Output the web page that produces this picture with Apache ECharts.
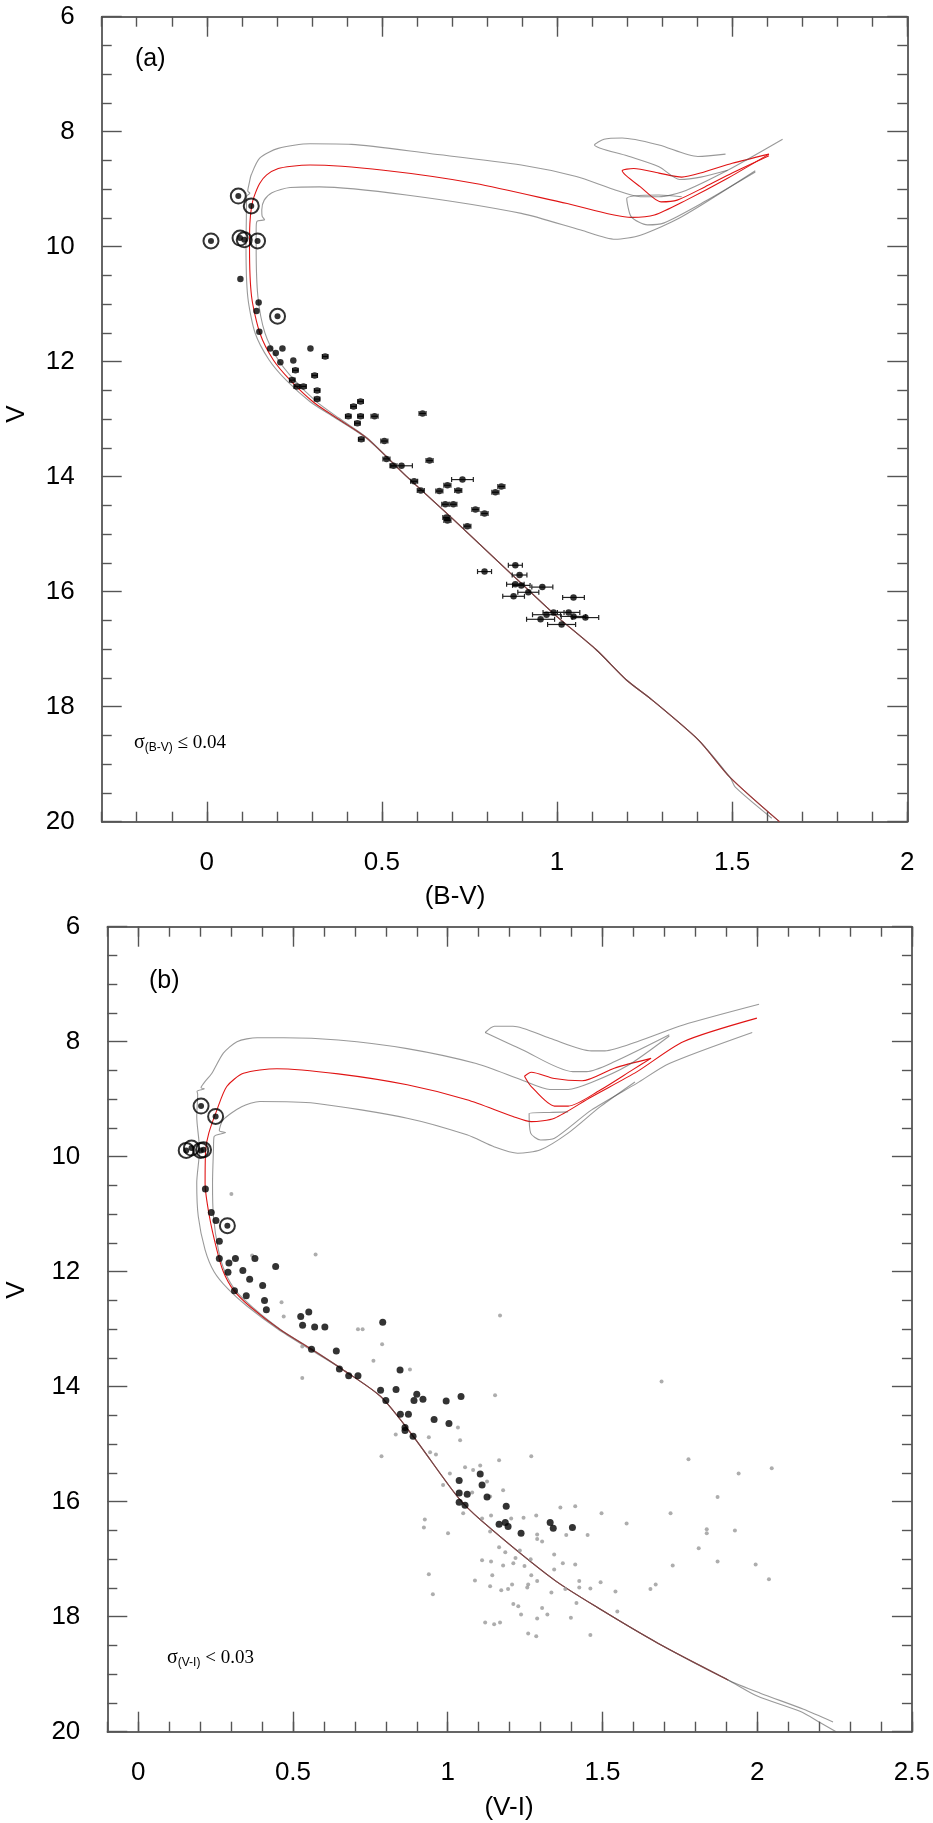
<!DOCTYPE html>
<html>
<head>
<meta charset="utf-8">
<script src="https://cdn.jsdelivr.net/npm/echarts@6/dist/echarts.min.js"></script>
<style>
  html, body { margin: 0; padding: 0; background: #fff; }
  #chart { width: 933px; height: 1823px; }
</style>
</head>
<body>
<div id="chart"></div>
<script>
// ---- panel (a): V vs (B-V) ----
// [B-V, V, error in B-V]
var starsA = [
  [0.096,10.56,0],[0.148,10.97,0],[0.142,11.12,0],[0.150,11.48,0],[0.181,11.77,0],
  [0.216,11.77,0],[0.197,11.85,0],[0.296,11.77,0],[0.338,11.91,0.008],[0.210,12.01,0],
  [0.247,11.98,0],[0.253,12.15,0.008],[0.308,12.24,0.008],[0.244,12.32,0.008],[0.257,12.43,0.008],
  [0.276,12.43,0.008],[0.315,12.50,0.008],[0.315,12.65,0.008],[0.439,12.69,0.008],[0.419,12.78,0.008],
  [0.404,12.95,0.008],[0.439,12.95,0.008],[0.479,12.95,0.01],[0.430,13.07,0.008],[0.616,12.90,0.01],
  [0.441,13.35,0.008],[0.507,13.38,0.01],[0.513,13.69,0.01],[0.533,13.81,0.01],[0.556,13.81,0.031],
  [0.636,13.72,0.01],[0.592,14.08,0.01],[0.611,14.24,0.01],[0.730,14.05,0.031],[0.687,14.15,0.01],
  [0.664,14.25,0.01],[0.718,14.24,0.01],[0.841,14.17,0.01],[0.824,14.27,0.01],[0.681,14.48,0.01],
  [0.704,14.48,0.01],[0.767,14.57,0.01],[0.793,14.64,0.01],[0.684,14.71,0.01],[0.687,14.76,0.01],
  [0.744,14.86,0.01],[0.793,15.65,0.02],[0.881,15.54,0.02],[0.893,15.71,0.021],[0.881,15.87,0.025],
  [0.898,15.89,0.025],[0.958,15.92,0.03],[0.918,16.01,0.03],[0.876,16.08,0.031],[1.047,16.10,0.031],
  [0.990,16.36,0.03],[1.033,16.36,0.032],[0.970,16.40,0.04],[1.047,16.43,0.035],[1.081,16.45,0.038],
  [0.953,16.48,0.04],[1.013,16.57,0.04]
];
var circledA = [[0.090,9.12],[0.127,9.29],[0.012,9.90],[0.095,9.85],[0.107,9.88],[0.145,9.90],[0.202,11.21]];

var isoA_red = [[1.635,20.0],[1.494,19.23],[1.404,18.58],[1.271,17.88],[1.199,17.54],[1.112,17.01],[0.99,16.38],
  [0.85,15.58],[0.70,14.72],[0.571,14.0],[0.457,13.33],[0.371,12.98],[0.304,12.70],[0.238,12.32],[0.19,11.97],
  [0.152,11.51],[0.128,10.87],[0.122,10.0],[0.123,9.6],[0.128,9.30],[0.135,9.13],[0.151,8.90],[0.171,8.75],
  [0.204,8.64],[0.243,8.60],[0.295,8.58],[0.505,8.67],[0.767,8.90],[1.029,9.25],[1.212,9.49],[1.278,9.45],
  [1.369,9.19],[1.487,8.81],[1.605,8.39]];
var isoA_redLoop = [[1.605,8.39],[1.50,8.55],[1.42,8.70],[1.356,8.79],[1.291,8.72],[1.219,8.64],[1.186,8.68],
  [1.238,8.96],[1.297,9.22],[1.343,9.19],[1.422,8.96],[1.50,8.72],[1.605,8.42]];
var isoA_up = [[1.635,20.0],[1.494,19.23],[1.404,18.58],[1.271,17.88],[1.199,17.54],[1.112,17.01],[0.99,16.38],
  [0.85,15.58],[0.70,14.72],[0.571,14.0],[0.455,13.33],[0.365,12.97],[0.296,12.70],[0.228,12.33],[0.178,11.97],
  [0.138,11.5],[0.117,10.87],[0.112,10.0],[0.113,9.5],[0.114,9.12],[0.123,9.07],[0.117,9.03],[0.121,8.9],
  [0.127,8.75],[0.151,8.46],[0.204,8.29],[0.295,8.21],[0.413,8.22],[0.636,8.38],[0.898,8.58],[1.055,8.78],
  [1.160,9.00],[1.238,9.13],[1.291,9.13],[1.356,9.05],[1.487,8.67],[1.644,8.13]];
var isoA_upLoop = [[1.481,8.39],[1.402,8.43],[1.291,8.23],[1.186,8.11],[1.134,8.13],[1.107,8.23],[1.20,8.42],
  [1.291,8.61],[1.350,8.83],[1.41,8.79],[1.487,8.67]];
var isoA_low = [[1.613,19.94],[1.509,19.40],[1.494,19.23],[1.404,18.58],[1.271,17.88],[1.199,17.54],[1.112,17.01],
  [0.99,16.38],[0.85,15.58],[0.70,14.72],[0.571,14.0],[0.459,13.33],[0.377,12.98],[0.312,12.69],[0.247,12.30],
  [0.202,11.95],[0.166,11.5],[0.146,10.87],[0.141,10.0],[0.141,9.7],[0.143,9.56],[0.165,9.53],[0.158,9.47],
  [0.157,9.36],[0.164,9.19],[0.186,9.06],[0.238,8.97],[0.322,8.96],[0.570,9.10],[0.898,9.42],[1.068,9.71],
  [1.166,9.87],[1.238,9.80],[1.356,9.48],[1.566,8.68]];
var isoA_lowLoop = [[1.356,9.13],[1.291,9.10],[1.199,9.16],[1.212,9.48],[1.258,9.62],[1.304,9.59],[1.42,9.22],[1.566,8.70]];

// ---- panel (b): V vs (V-I) ----
var starsB = [
  [0.217,10.56],[0.236,10.97],[0.251,11.11],[0.262,11.47],[0.262,11.77],[0.293,11.85],[0.314,11.77],
  [0.377,11.77],[0.444,11.91],[0.290,12.01],[0.338,11.98],[0.360,12.13],[0.402,12.24],[0.311,12.33],
  [0.349,12.42],[0.408,12.50],[0.414,12.66],[0.525,12.78],[0.551,12.70],[0.531,12.93],[0.570,12.96],
  [0.603,12.96],[0.790,12.88],[0.56,13.35],[0.64,13.38],[0.65,13.69],[0.68,13.81],[0.71,13.81],
  [0.846,13.71],[0.783,14.06],[0.800,14.24],[0.833,14.05],[0.847,14.48],[0.873,14.48],[0.862,14.71],
  [0.862,14.76],[0.888,14.86],[0.891,14.24],[0.900,14.13],[0.920,14.22],[0.956,14.57],[0.995,14.25],
  [1.004,14.64],[1.043,14.17],[1.037,15.63],[1.105,15.52],[1.111,15.71],[1.037,15.85],[1.063,15.87],
  [1.127,15.92],[1.037,16.01],[1.056,16.06],[1.189,16.08],[1.166,16.39],[1.186,16.36],[1.195,16.43],
  [1.237,16.55],[1.331,16.36],[1.341,16.46],[1.403,16.45]
];
var circledB = [[0.203,9.12],[0.250,9.30],[0.155,9.89],[0.172,9.85],[0.202,9.89],[0.211,9.88],[0.288,11.20]];
var fieldB = [
  [0.301,10.65],[0.573,11.70],[0.368,11.72],[0.463,12.53],[0.470,12.78],[0.71,13.0],[0.725,13.0],
  [0.53,13.30],[0.53,13.85],[0.76,13.55],
  [1.169,12.76],[0.788,13.26],[0.878,13.70],[1.153,14.15],[1.691,13.91],[1.033,14.71],[1.040,14.93],
  [0.939,14.88],[0.832,14.83],[0.943,15.14],[0.962,15.18],[0.786,15.21],[1.166,15.28],[1.270,15.21],
  [1.778,15.26],[1.940,15.51],[2.047,15.42],[1.007,15.51],[1.056,15.40],[1.082,15.45],[1.105,15.37],
  [0.985,15.71],[1.127,15.65],[1.079,15.84],[1.179,15.80],[1.137,15.91],[1.872,15.92],[1.364,16.10],
  [1.412,16.08],[1.497,16.20],[1.720,16.20],[1.578,16.38],[0.926,16.31],[0.923,16.45],[1.001,16.55],
  [1.050,16.20],[1.111,16.29],[1.140,16.24],[1.205,16.29],[1.245,16.28],[1.286,16.24],[1.137,16.52],
  [1.289,16.57],[1.289,16.65],[1.305,16.69],[1.383,16.58],[1.452,16.58],[1.837,16.48],[1.837,16.55],
  [1.928,16.50],[1.166,16.79],[1.186,16.88],[1.219,16.98],[1.233,16.85],[1.344,16.92],[1.811,16.81],
  [1.111,17.02],[1.140,17.04],[1.179,17.11],[1.212,17.07],[1.248,17.12],[1.268,17.00],[1.344,17.18],
  [1.372,17.07],[1.412,17.09],[1.727,17.11],[1.872,17.04],[1.995,17.09],[0.939,17.26],[1.144,17.28],
  [1.270,17.28],[1.088,17.37],[1.289,17.38],[1.425,17.38],[1.494,17.40],[2.038,17.35],[1.137,17.47],
  [1.208,17.44],[1.260,17.44],[1.257,17.49],[1.173,17.54],[1.195,17.52],[1.335,17.58],[1.380,17.52],
  [1.425,17.49],[1.461,17.51],[1.542,17.56],[1.655,17.52],[1.672,17.44],[0.952,17.61],[1.416,17.76],
  [1.212,17.78],[1.228,17.82],[1.305,17.85],[1.548,17.91],[1.237,17.96],[1.322,17.96],[1.289,18.03],
  [1.398,18.02],[1.121,18.10],[1.150,18.13],[1.169,18.10],[1.260,18.29],[1.286,18.34],[1.461,18.32]
];

var isoB_red = [[1.906,19.10],[1.679,18.46],[1.496,17.88],[1.344,17.36],[1.107,16.32],[1.031,15.91],[0.888,14.86],
  [0.783,14.17],[0.66,13.7],[0.56,13.35],[0.459,13.01],[0.362,12.61],[0.308,12.32],[0.275,12.0],[0.254,11.62],
  [0.23,11.04],[0.216,10.46],[0.218,9.88],[0.228,9.59],[0.254,9.19],[0.286,8.78],[0.340,8.55],[0.448,8.47],
  [0.646,8.56],[0.869,8.75],[1.062,9.01],[1.211,9.30],[1.270,9.39],[1.345,9.33],[1.464,8.96],[1.612,8.52],
  [1.761,8.00],[1.999,7.59]];
var isoB_redLoop = [[1.248,8.60],[1.270,8.53],[1.345,8.64],[1.434,8.68],[1.538,8.46],[1.657,8.29],[1.597,8.49],
  [1.493,8.84],[1.389,9.12],[1.345,9.12],[1.270,8.78],[1.248,8.60]];
var isoB_up = [[2.245,19.83],[2.15,19.61],[2.01,19.33],[1.906,19.10],[1.679,18.46],[1.496,17.88],[1.344,17.36],
  [1.107,16.32],[1.031,15.91],[0.888,14.86],[0.783,14.17],[0.66,13.7],[0.555,13.35],[0.452,13.0],[0.352,12.6],
  [0.29,12.3],[0.245,12.0],[0.216,11.62],[0.194,11.04],[0.189,10.46],[0.198,9.88],[0.189,9.30],[0.192,8.92],
  [0.190,8.86],[0.214,8.82],[0.203,8.80],[0.215,8.70],[0.238,8.55],[0.275,8.20],[0.319,8.00],[0.384,7.93],
  [0.470,7.93],[0.646,7.97],[0.869,8.12],[1.092,8.38],[1.241,8.67],[1.330,8.83],[1.389,8.83],[1.464,8.71],
  [1.583,8.41],[1.716,7.90]];
var isoB_upLoopA = [[1.121,7.84],[1.151,7.73],[1.211,7.73],[1.330,7.94],[1.464,8.16],[1.508,8.16],[1.612,8.00],
  [1.761,7.71],[2.006,7.35]];
var isoB_upLoopB = [[1.121,7.84],[1.241,8.14],[1.404,8.52],[1.449,8.52],[1.538,8.35],[1.716,7.88]];
var isoB_low = [[2.255,20.0],[2.2,19.83],[2.14,19.65],[2.0,19.38],[1.906,19.10],[1.679,18.46],[1.496,17.88],
  [1.344,17.36],[1.107,16.32],[1.031,15.91],[0.888,14.86],[0.783,14.17],[0.66,13.7],[0.562,13.35],[0.464,13.02],
  [0.37,12.62],[0.315,12.33],[0.28,12.0],[0.259,11.62],[0.243,11.04],[0.240,10.46],[0.243,9.88],[0.245,9.65],
  [0.282,9.58],[0.262,9.55],[0.274,9.36],[0.334,9.13],[0.393,9.04],[0.571,9.07],[0.869,9.33],[1.062,9.62],
  [1.151,9.83],[1.226,9.94],[1.300,9.88],[1.389,9.59],[1.493,9.13],[1.605,8.70]];
var isoB_lowLoop = [[1.389,9.22],[1.330,9.23],[1.263,9.25],[1.268,9.59],[1.300,9.71],[1.345,9.68],[1.464,9.19],
  [1.612,8.72],[1.716,8.38],[1.984,7.84]];

// tick values
var majorA = [0, 0.5, 1, 1.5, 2];
var majorB = [0, 0.5, 1, 1.5, 2, 2.5];

function steps(a, b, s) {
  var out = [];
  for (var v = a; v <= b + 1e-9; v += s) out.push(Math.round(v * 10) / 10);
  return out;
}

var AX = '#555';
var FONT = '"Liberation Sans", Arial, sans-serif';

function xAxes(grid, min, max, majors) {
  var minors = steps(min, max, 0.1);
  var base = { gridIndex: grid, type: 'value', min: min, max: max, splitLine: { show: false } };
  var tick = function (len, vals) {
    return { show: true, inside: true, length: len, customValues: vals, lineStyle: { color: AX, width: 1.4 } };
  };
  return [
    Object.assign({}, base, {
      position: 'bottom',
      axisLine: { show: true, onZero: false, lineStyle: { color: '#333', width: 1.5 } },
      axisTick: tick(20, majors),
      axisLabel: { show: true, customValues: majors, margin: 28, fontSize: 26, color: '#000', fontFamily: FONT }
    }),
    Object.assign({}, base, { position: 'bottom', axisLine: { show: false }, axisTick: tick(10, minors), axisLabel: { show: false } }),
    Object.assign({}, base, {
      position: 'top',
      axisLine: { show: true, onZero: false, lineStyle: { color: '#333', width: 1.5 } },
      axisTick: tick(20, majors), axisLabel: { show: false }
    }),
    Object.assign({}, base, { position: 'top', axisLine: { show: false }, axisTick: tick(10, minors), axisLabel: { show: false } })
  ];
}

function yAxes(grid) {
  var base = {
    gridIndex: grid, type: 'value', min: 6, max: 20, interval: 2, inverse: true,
    splitLine: { show: false },
    axisLine: { show: true, onZero: false, lineStyle: { color: '#333', width: 1.5 } },
    axisTick: { show: true, inside: true, length: 20, lineStyle: { color: AX, width: 1.4 } },
    minorTick: { show: true, splitNumber: 4, length: 10, lineStyle: { color: AX, width: 1.4 } }
  };
  return [
    Object.assign({}, base, {
      position: 'left',
      axisLabel: { show: true, margin: 27, fontSize: 26, color: '#000', fontFamily: FONT }
    }),
    Object.assign({}, base, { position: 'right', axisLabel: { show: false } })
  ];
}

function iso(data, xi, yi, red) {
  return {
    type: 'line', data: data, xAxisIndex: xi, yAxisIndex: yi,
    showSymbol: false, symbol: 'none', smooth: 0.25, silent: true,
    z: red ? 2 : 3,
    lineStyle: red ? { color: '#e01414', width: 1.1 } : { color: '#555', width: 1.1, opacity: 0.6 }
  };
}

function dots(data, xi, yi, size, color, z) {
  return {
    type: 'scatter', data: data, xAxisIndex: xi, yAxisIndex: yi,
    symbol: 'circle', symbolSize: size, silent: true, z: z,
    itemStyle: { color: color }
  };
}

function rings(data, xi, yi) {
  return {
    type: 'scatter', data: data, xAxisIndex: xi, yAxisIndex: yi,
    symbol: 'circle', symbolSize: 15, silent: true, z: 6,
    itemStyle: { color: 'rgba(0,0,0,0)', borderColor: '#000', borderWidth: 2 }
  };
}

var errBars = {
  type: 'custom', xAxisIndex: 0, yAxisIndex: 0, z: 4, silent: true,
  data: starsA,
  encode: { x: 0, y: 1 },
  renderItem: function (params, api) {
    var e = api.value(2);
    if (!e) return null;
    var v = api.value(1);
    var p0 = api.coord([api.value(0) - e, v]);
    var p1 = api.coord([api.value(0) + e, v]);
    var st = { stroke: '#222', lineWidth: 1.2 };
    return {
      type: 'group',
      children: [
        { type: 'line', shape: { x1: p0[0], y1: p0[1], x2: p1[0], y2: p1[1] }, style: st },
        { type: 'line', shape: { x1: p0[0], y1: p0[1] - 2.5, x2: p0[0], y2: p0[1] + 2.5 }, style: st },
        { type: 'line', shape: { x1: p1[0], y1: p1[1] - 2.5, x2: p1[0], y2: p1[1] + 2.5 }, style: st }
      ]
    };
  }
};

var chart = echarts.init(document.getElementById('chart'), null, { renderer: 'canvas' });

chart.setOption({
  backgroundColor: '#fff',
  animation: false,
  grid: [
    { left: 101.7, top: 16.7, width: 805.6, height: 805 },
    { left: 107.3, top: 926.7, width: 805.4, height: 805 }
  ],
  xAxis: xAxes(0, -0.3, 2, majorA).concat(xAxes(1, -0.1, 2.5, majorB)),
  yAxis: yAxes(0).concat(yAxes(1)),
  graphic: [
    { type: 'text', left: 135, top: 47, style: { text: '(a)', font: '25px ' + FONT, fill: '#000' } },
    { type: 'text', left: 149, top: 969, style: { text: '(b)', font: '25px ' + FONT, fill: '#000' } },
    { type: 'text', x: 455, y: 897, style: { text: '(B-V)', font: '26px ' + FONT, fill: '#000', align: 'center', verticalAlign: 'middle' } },
    { type: 'text', x: 509, y: 1808, style: { text: '(V-I)', font: '26px ' + FONT, fill: '#000', align: 'center', verticalAlign: 'middle' } },
    { type: 'text', x: 17, y: 414, rotation: Math.PI / 2, style: { text: 'V', font: '26px ' + FONT, fill: '#000', align: 'center', verticalAlign: 'middle' } },
    { type: 'text', x: 17, y: 1290, rotation: Math.PI / 2, style: { text: 'V', font: '26px ' + FONT, fill: '#000', align: 'center', verticalAlign: 'middle' } },
    {
      type: 'text', x: 134, y: 743,
      style: {
        text: '{s|σ}{b|(B-V)}{t| ≤ 0.04}', verticalAlign: 'middle',
        rich: {
          s: { font: '20px "Liberation Serif", serif', fill: '#000' },
          b: { font: '12px ' + FONT, fill: '#000', padding: [10, 0, 0, 0] },
          t: { font: '19px "Liberation Serif", serif', fill: '#000' }
        }
      }
    },
    {
      type: 'text', x: 167, y: 1658,
      style: {
        text: '{s|σ}{b|(V-I)}{t| < 0.03}', verticalAlign: 'middle',
        rich: {
          s: { font: '20px "Liberation Serif", serif', fill: '#000' },
          b: { font: '12px ' + FONT, fill: '#000', padding: [10, 0, 0, 0] },
          t: { font: '19px "Liberation Serif", serif', fill: '#000' }
        }
      }
    }
  ],
  series: [
    iso(isoA_red, 0, 0, true), iso(isoA_redLoop, 0, 0, true),
    iso(isoA_up, 0, 0, false), iso(isoA_upLoop, 0, 0, false),
    iso(isoA_low, 0, 0, false), iso(isoA_lowLoop, 0, 0, false),
    errBars,
    dots(starsA, 0, 0, 6.5, '#000', 5),
    dots(circledA, 0, 0, 6, '#000', 5),
    rings(circledA, 0, 0),

    iso(isoB_red, 4, 2, true), iso(isoB_redLoop, 4, 2, true),
    iso(isoB_up, 4, 2, false), iso(isoB_upLoopA, 4, 2, false), iso(isoB_upLoopB, 4, 2, false),
    iso(isoB_low, 4, 2, false), iso(isoB_lowLoop, 4, 2, false),
    dots(fieldB, 4, 2, 4, '#999', 4),
    dots(starsB, 4, 2, 7, '#000', 5),
    dots(circledB, 4, 2, 6, '#000', 5),
    rings(circledB, 4, 2)
  ]
});
</script>
</body>
</html>
